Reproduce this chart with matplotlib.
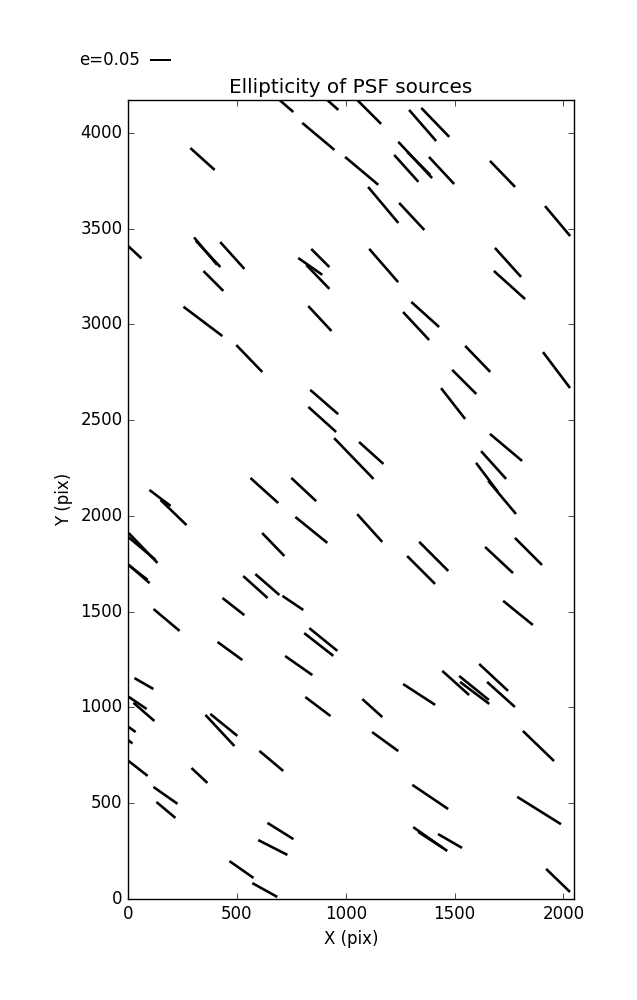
import numpy as np
import matplotlib
matplotlib.use("Agg")
import matplotlib.pyplot as plt

plt.style.use("classic")

# PSF source positions (pix)
x_pos = [714, 925, 874, 1073, 342, 18, 356, 368, 479, 392, 344, 557, 883, 837, 872, 881,
         1101, 1353, 1411, 1319, 1335, 1278, 1440, 1720, 1172, 1303, 1973, 1174, 1745, 1752,
         1365, 1323, 1606, 1968, 1544, 1493, 901, 892, 1037, 1117, 147, 209, 626, 807, 842,
         667, 69, 64, 51, 44, 484, 585, 640, 757, 177, 897, 876, 468, 784, 73, 44, 73, 872,
         422, 440, 5, 2, 658, 328, 46, 172, 174, 700, 665, 521, 628, 1679, 1505, 1589, 1592,
         1713, 1337, 1122, 1181, 1885, 1388, 1888, 1388, 1390, 1479, 1975, 1736, 1679, 1649,
         1718, 1110, 1404, 1346, 1704, 1839, 1791]
y_pos = [4154, 4162, 3982, 3802, 3864, 3391, 3383, 3368, 3360, 3227, 3016, 2822, 3347, 3303,
         3248, 3031, 4117, 4039, 4055, 3859, 3841, 3815, 3804, 3786, 3624, 3564, 3540, 3308,
         3324, 3206, 3052, 2992, 2820, 2762, 2700, 2587, 2595, 2504, 2300, 2329, 2094, 2018,
         2133, 2138, 1927, 1851, 1833, 1830, 1697, 1707, 1527, 1629, 1642, 1546, 1457, 1355,
         1329, 1295, 1219, 1125, 1024, 977, 1005, 880, 909, 896, 828, 721, 645, 682, 541, 465,
         355, 269, 154, 47, 1157, 1128, 1102, 1076, 1068, 1068, 997, 822, 799, 533, 462, 313,
         308, 303, 97, 2358, 2266, 2201, 2097, 1937, 1789, 1718, 1770, 1815, 1494]
# ellipticity and orientation (deg)
ellip = [0.062, 0.057, 0.100, 0.103, 0.078, 0.062, 0.085, 0.085, 0.086, 0.067, 0.116, 0.089,
         0.061, 0.070, 0.079, 0.081, 0.090, 0.098, 0.096, 0.118, 0.077, 0.086, 0.088, 0.086,
         0.112, 0.088, 0.093, 0.105, 0.093, 0.100, 0.089, 0.091, 0.086, 0.107, 0.081, 0.093,
         0.088, 0.089, 0.135, 0.078, 0.063, 0.086, 0.089, 0.081, 0.098, 0.076, 0.099, 0.085,
         0.066, 0.060, 0.066, 0.078, 0.076, 0.060, 0.081, 0.086, 0.088, 0.073, 0.079, 0.052,
         0.052, 0.066, 0.075, 0.101, 0.083, 0.038, 0.024, 0.074, 0.052, 0.058, 0.070, 0.059,
         0.073, 0.078, 0.070, 0.068, 0.094, 0.086, 0.091, 0.087, 0.089, 0.091, 0.064, 0.077,
         0.103, 0.103, 0.123, 0.099, 0.071, 0.066, 0.079, 0.100, 0.089, 0.087, 0.103, 0.089,
         0.098, 0.094, 0.091, 0.091, 0.091]
theta = [-41, -42, -40, -40, -42, -43, -50, -47, -48, -45, -37, -46, -45, -35, -46, -47,
         -45, -49, -46, -47, -45, -48, -47, -46, -50, -47, -50, -49, -48, -42, -42, -47,
         -46, -53, -45, -52, -41, -42, -46, -42, -37, -44, -42, -43, -39, -46, -46, -40,
         -41, -38, -38, -42, -41, -34, -40, -39, -38, -36, -35, -30, -34, -41, -37, -47,
         -39, -35, -37, -40, -43, -38, -35, -40, -32, -27, -35, -29, -43, -42, -39, -37,
         -42, -33, -42, -36, -44, -34, -32, -35, -33, -30, -44, -40, -48, -53, -50, -48,
         -45, -45, -43, -45, -39]

e = np.array(ellip)
t = np.radians(theta)
u = e * np.cos(t)
v = e * np.sin(t)

fig = plt.figure(figsize=(6.37, 10), dpi=100)
ax = fig.add_axes([0.201, 0.101, 0.7, 0.799])

q = ax.quiver(x_pos, y_pos, u, v, angles="uv", pivot="middle",
              headwidth=0, headlength=0, headaxislength=0,
              scale_units="inches", scale=1 / 4.2, units="dots", width=2.6,
              color="k")
ax.quiverkey(q, 0.2355, 0.94, 0.05, "e=0.05", labelpos="W",
             coordinates="figure", fontproperties={"size": 12})

ax.set_xlim(0, 2048)
ax.set_ylim(0, 4172)
ax.set_xticks([0, 500, 1000, 1500, 2000])
ax.set_yticks(np.arange(0, 4001, 500))
ax.set_xlabel("X (pix)")
ax.set_ylabel("Y (pix)")
ax.set_title("Ellipticity of PSF sources")

fig.savefig("out.png", dpi=100)
